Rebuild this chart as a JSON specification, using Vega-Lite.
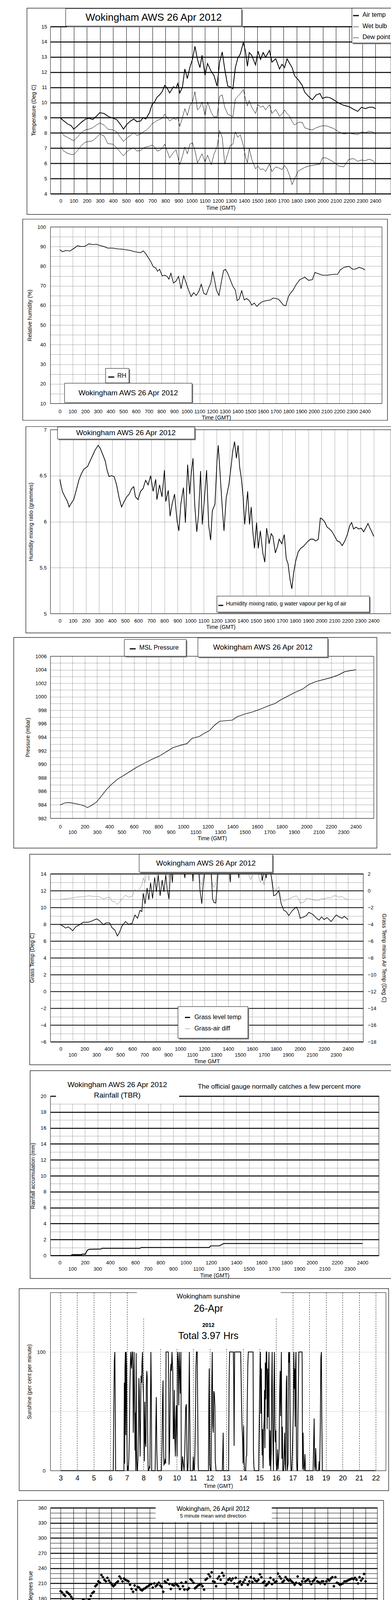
{
"$schema":"https://vega.github.io/schema/vega-lite/v6.json",
"background":"white",
"padding":{"left":32,"top":20,"right":0,"bottom":0},
"spacing":6,
"config":{
 "view":{"stroke":null},
 "font":"Liberation Sans",
 "mark":{"color":"#000"},
 "text":{"font":"Liberation Sans","color":"#000"},
 "axis":{"domain":false,"ticks":false,"labelFont":"Liberation Sans","labelFontSize":13,"labelColor":"#000","titleFont":"Liberation Sans","titleFontSize":14,"titleFontWeight":"normal","titleColor":"#000","gridColor":"#000","gridOpacity":1,"gridWidth":1,"labelOverlap":false,"labelFlush":false,"labelBound":false}
},
"datasets":{
"temp":[{"t":0,"air":8.97,"wet":8.11,"dew":7.12},{"t":23,"air":8.8,"wet":7.84,"dew":6.81},{"t":52,"air":8.6,"wet":7.71,"dew":6.67},{"t":81,"air":8.47,"wet":7.57,"dew":6.58},{"t":100,"air":8.25,"wet":7.48,"dew":6.58},{"t":129,"air":8.47,"wet":7.75,"dew":6.85},{"t":158,"air":8.7,"wet":8.02,"dew":7.17},{"t":187,"air":8.9,"wet":8.2,"dew":7.39},{"t":216,"air":8.97,"wet":8.25,"dew":7.44},{"t":244,"air":8.88,"wet":8.34,"dew":7.48},{"t":273,"air":9.1,"wet":8.52,"dew":7.71},{"t":298,"air":9.33,"wet":8.65,"dew":7.93},{"t":331,"air":9.28,"wet":8.52,"dew":7.8},{"t":360,"air":9.1,"wet":8.25,"dew":7.3},{"t":398,"air":8.97,"wet":8.2,"dew":7.26},{"t":427,"air":8.88,"wet":8.07,"dew":7.03},{"t":456,"air":8.56,"wet":7.71,"dew":6.72},{"t":479,"air":8.25,"wet":7.44,"dew":6.49},{"t":504,"air":8.56,"wet":7.66,"dew":6.76},{"t":533,"air":8.79,"wet":7.84,"dew":6.94},{"t":558,"air":8.92,"wet":8.02,"dew":7.03},{"t":581,"air":8.74,"wet":7.84,"dew":6.81},{"t":610,"air":8.79,"wet":7.93,"dew":6.85},{"t":629,"air":9.01,"wet":8.07,"dew":6.99},{"t":649,"air":8.92,"wet":8.16,"dew":7.08},{"t":677,"air":9.33,"wet":8.38,"dew":7.12},{"t":697,"air":9.87,"wet":8.61,"dew":7.21},{"t":716,"air":10.05,"wet":8.7,"dew":7.08},{"t":735,"air":10.36,"wet":8.83,"dew":6.81},{"t":754,"air":10.5,"wet":8.88,"dew":6.85},{"t":774,"air":10.72,"wet":8.97,"dew":6.99},{"t":793,"air":11.13,"wet":9.24,"dew":7.26},{"t":812,"air":10.95,"wet":9.01,"dew":6.81},{"t":831,"air":10.63,"wet":8.79,"dew":6.36},{"t":860,"air":11.04,"wet":8.97,"dew":6.72},{"t":880,"air":10.95,"wet":8.88,"dew":6.9},{"t":893,"air":11.26,"wet":9.06,"dew":6.45},{"t":908,"air":10.63,"wet":8.43,"dew":5.91},{"t":928,"air":11.0,"wet":8.97,"dew":6.45},{"t":947,"air":12.21,"wet":9.6,"dew":7.08},{"t":966,"air":11.58,"wet":9.15,"dew":6.63},{"t":985,"air":12.3,"wet":9.78,"dew":7.26},{"t":1005,"air":12.84,"wet":10.05,"dew":7.35},{"t":1024,"air":13.7,"wet":10.72,"dew":6.85},{"t":1043,"air":12.84,"wet":9.51,"dew":6.04},{"t":1062,"air":12.3,"wet":9.69,"dew":6.36},{"t":1078,"air":13.11,"wet":10.05,"dew":6.63},{"t":1101,"air":11.8,"wet":9.15,"dew":6.09},{"t":1120,"air":12.57,"wet":10.04,"dew":6.54},{"t":1149,"air":12.03,"wet":9.33,"dew":5.91},{"t":1168,"air":11.8,"wet":9.06,"dew":6.58},{"t":1193,"air":11.08,"wet":9.06,"dew":7.08},{"t":1212,"air":12.66,"wet":10.41,"dew":8.16},{"t":1232,"air":13.33,"wet":10.5,"dew":7.71},{"t":1251,"air":12.21,"wet":9.69,"dew":5.95},{"t":1274,"air":11.08,"wet":9.24,"dew":6.63},{"t":1293,"air":11.04,"wet":9.15,"dew":7.17},{"t":1313,"air":10.9,"wet":9.06,"dew":7.26},{"t":1332,"air":12.3,"wet":10.23,"dew":8.07},{"t":1351,"air":12.93,"wet":10.41,"dew":7.71},{"t":1370,"air":13.2,"wet":10.59,"dew":7.89},{"t":1393,"air":13.96,"wet":10.86,"dew":7.17},{"t":1409,"air":13.38,"wet":10.23,"dew":6.45},{"t":1424,"air":12.39,"wet":9.78,"dew":6.04},{"t":1438,"air":13.29,"wet":10.14,"dew":6.99},{"t":1457,"air":13.11,"wet":9.69,"dew":6.27},{"t":1486,"air":12.48,"wet":9.28,"dew":5.64},{"t":1505,"air":13.38,"wet":9.87,"dew":5.82},{"t":1524,"air":12.84,"wet":9.69,"dew":5.59},{"t":1544,"air":13.29,"wet":9.78,"dew":5.64},{"t":1563,"air":12.98,"wet":9.51,"dew":5.46},{"t":1592,"air":13.43,"wet":9.87,"dew":5.95},{"t":1611,"air":12.66,"wet":9.28,"dew":5.46},{"t":1640,"air":12.88,"wet":9.55,"dew":5.77},{"t":1669,"air":12.21,"wet":9.1,"dew":5.68},{"t":1688,"air":12.52,"wet":9.24,"dew":5.59},{"t":1707,"air":12.3,"wet":9.51,"dew":5.86},{"t":1726,"air":12.88,"wet":9.28,"dew":5.64},{"t":1746,"air":12.57,"wet":9.1,"dew":5.19},{"t":1765,"air":12.3,"wet":8.74,"dew":4.6},{"t":1784,"air":11.76,"wet":8.52,"dew":5.01},{"t":1813,"air":11.49,"wet":8.7,"dew":5.5},{"t":1842,"air":11.13,"wet":8.7,"dew":5.64},{"t":1861,"air":10.68,"wet":8.34,"dew":5.73},{"t":1890,"air":10.41,"wet":8.25,"dew":5.82},{"t":1919,"air":10.18,"wet":8.2,"dew":5.86},{"t":1948,"air":10.5,"wet":8.34,"dew":5.91},{"t":1977,"air":10.59,"wet":8.43,"dew":5.95},{"t":1996,"air":10.27,"wet":8.47,"dew":6.36},{"t":2025,"air":10.36,"wet":8.47,"dew":6.36},{"t":2054,"air":10.32,"wet":8.38,"dew":6.22},{"t":2082,"air":10.18,"wet":8.29,"dew":6.09},{"t":2121,"air":9.96,"wet":8.07,"dew":5.82},{"t":2159,"air":9.82,"wet":7.93,"dew":5.77},{"t":2198,"air":9.73,"wet":7.98,"dew":6.27},{"t":2236,"air":9.55,"wet":7.93,"dew":6.31},{"t":2265,"air":9.42,"wet":7.89,"dew":6.13},{"t":2294,"air":9.69,"wet":8.07,"dew":6.22},{"t":2323,"air":9.6,"wet":8.02,"dew":6.18},{"t":2352,"air":9.69,"wet":8.11,"dew":6.27},{"t":2381,"air":9.69,"wet":8.07,"dew":6.18},{"t":2400,"air":9.6,"wet":7.93,"dew":6.0}],
"rh":[{"t":0,"v":88.4},{"t":20,"v":87.4},{"t":50,"v":88.0},{"t":79,"v":87.7},{"t":109,"v":89.0},{"t":139,"v":90.4},{"t":169,"v":90.0},{"t":199,"v":90.2},{"t":229,"v":91.4},{"t":258,"v":91.0},{"t":288,"v":91.2},{"t":318,"v":90.5},{"t":348,"v":90.0},{"t":378,"v":89.2},{"t":417,"v":89.2},{"t":457,"v":88.8},{"t":487,"v":88.7},{"t":517,"v":88.4},{"t":556,"v":88.0},{"t":586,"v":87.4},{"t":616,"v":87.1},{"t":636,"v":86.9},{"t":656,"v":87.8},{"t":676,"v":86.4},{"t":695,"v":84.4},{"t":715,"v":82.4},{"t":735,"v":79.7},{"t":755,"v":79.1},{"t":769,"v":77.4},{"t":785,"v":78.4},{"t":805,"v":75.1},{"t":825,"v":75.4},{"t":844,"v":74.8},{"t":858,"v":73.4},{"t":874,"v":76.4},{"t":894,"v":71.4},{"t":914,"v":72.4},{"t":934,"v":74.8},{"t":954,"v":68.5},{"t":974,"v":75.1},{"t":994,"v":71.4},{"t":1013,"v":67.8},{"t":1033,"v":64.5},{"t":1053,"v":66.5},{"t":1073,"v":65.1},{"t":1093,"v":67.1},{"t":1113,"v":70.8},{"t":1133,"v":66.1},{"t":1152,"v":65.5},{"t":1172,"v":69.1},{"t":1188,"v":71.4},{"t":1202,"v":77.4},{"t":1216,"v":73.4},{"t":1232,"v":67.8},{"t":1252,"v":65.1},{"t":1272,"v":72.4},{"t":1288,"v":77.8},{"t":1303,"v":78.4},{"t":1321,"v":76.4},{"t":1341,"v":73.1},{"t":1361,"v":69.8},{"t":1381,"v":67.8},{"t":1395,"v":62.5},{"t":1411,"v":63.2},{"t":1431,"v":67.5},{"t":1451,"v":62.8},{"t":1470,"v":63.5},{"t":1490,"v":62.5},{"t":1510,"v":60.2},{"t":1530,"v":61.2},{"t":1550,"v":59.5},{"t":1570,"v":60.8},{"t":1590,"v":61.8},{"t":1609,"v":62.2},{"t":1629,"v":62.5},{"t":1659,"v":62.8},{"t":1679,"v":63.8},{"t":1699,"v":63.5},{"t":1719,"v":63.2},{"t":1739,"v":61.8},{"t":1758,"v":60.2},{"t":1778,"v":59.8},{"t":1798,"v":64.5},{"t":1818,"v":66.5},{"t":1838,"v":68.1},{"t":1858,"v":70.5},{"t":1888,"v":73.1},{"t":1927,"v":74.4},{"t":1957,"v":72.8},{"t":1987,"v":73.1},{"t":2007,"v":76.8},{"t":2037,"v":76.1},{"t":2066,"v":75.4},{"t":2106,"v":75.4},{"t":2146,"v":75.8},{"t":2186,"v":75.9},{"t":2206,"v":78.1},{"t":2235,"v":79.4},{"t":2275,"v":79.9},{"t":2305,"v":78.4},{"t":2325,"v":78.5},{"t":2355,"v":79.4},{"t":2384,"v":78.8},{"t":2400,"v":78.1}],
"mix":[{"t":0,"v":6.46},{"t":10,"v":6.39},{"t":19,"v":6.33},{"t":39,"v":6.27},{"t":58,"v":6.22},{"t":71,"v":6.16},{"t":87,"v":6.2},{"t":106,"v":6.24},{"t":125,"v":6.34},{"t":145,"v":6.45},{"t":164,"v":6.52},{"t":183,"v":6.57},{"t":212,"v":6.6},{"t":231,"v":6.66},{"t":251,"v":6.72},{"t":270,"v":6.78},{"t":293,"v":6.83},{"t":308,"v":6.8},{"t":328,"v":6.73},{"t":347,"v":6.66},{"t":361,"v":6.56},{"t":376,"v":6.49},{"t":395,"v":6.5},{"t":415,"v":6.49},{"t":434,"v":6.4},{"t":453,"v":6.26},{"t":472,"v":6.16},{"t":492,"v":6.22},{"t":511,"v":6.27},{"t":530,"v":6.3},{"t":549,"v":6.36},{"t":565,"v":6.38},{"t":578,"v":6.27},{"t":598,"v":6.24},{"t":617,"v":6.33},{"t":636,"v":6.36},{"t":656,"v":6.45},{"t":675,"v":6.4},{"t":694,"v":6.5},{"t":713,"v":6.33},{"t":733,"v":6.46},{"t":742,"v":6.24},{"t":762,"v":6.4},{"t":781,"v":6.27},{"t":800,"v":6.56},{"t":810,"v":6.22},{"t":829,"v":6.34},{"t":843,"v":6.06},{"t":858,"v":6.19},{"t":877,"v":6.3},{"t":897,"v":6.0},{"t":910,"v":5.9},{"t":925,"v":6.19},{"t":945,"v":6.37},{"t":960,"v":5.99},{"t":977,"v":6.62},{"t":993,"v":6.3},{"t":1003,"v":6.5},{"t":1018,"v":6.69},{"t":1031,"v":6.19},{"t":1047,"v":5.89},{"t":1060,"v":6.07},{"t":1076,"v":6.55},{"t":1089,"v":5.97},{"t":1105,"v":6.24},{"t":1122,"v":6.56},{"t":1138,"v":5.96},{"t":1153,"v":5.8},{"t":1166,"v":6.12},{"t":1186,"v":6.19},{"t":1201,"v":6.65},{"t":1211,"v":6.83},{"t":1224,"v":6.55},{"t":1240,"v":6.19},{"t":1255,"v":5.9},{"t":1272,"v":6.26},{"t":1292,"v":6.4},{"t":1311,"v":6.62},{"t":1321,"v":6.76},{"t":1336,"v":6.87},{"t":1350,"v":6.69},{"t":1363,"v":6.83},{"t":1375,"v":6.59},{"t":1388,"v":6.47},{"t":1402,"v":6.26},{"t":1413,"v":5.97},{"t":1427,"v":6.19},{"t":1436,"v":6.33},{"t":1450,"v":5.97},{"t":1463,"v":6.16},{"t":1475,"v":5.9},{"t":1488,"v":5.71},{"t":1504,"v":5.99},{"t":1517,"v":5.71},{"t":1533,"v":5.9},{"t":1552,"v":5.66},{"t":1567,"v":5.56},{"t":1581,"v":5.93},{"t":1600,"v":5.76},{"t":1616,"v":5.87},{"t":1629,"v":5.84},{"t":1648,"v":5.66},{"t":1664,"v":5.73},{"t":1677,"v":5.81},{"t":1697,"v":5.76},{"t":1716,"v":5.86},{"t":1731,"v":5.6},{"t":1745,"v":5.54},{"t":1760,"v":5.37},{"t":1774,"v":5.27},{"t":1787,"v":5.44},{"t":1803,"v":5.57},{"t":1822,"v":5.67},{"t":1841,"v":5.71},{"t":1861,"v":5.73},{"t":1880,"v":5.76},{"t":1899,"v":5.79},{"t":1918,"v":5.81},{"t":1938,"v":5.81},{"t":1957,"v":5.79},{"t":1976,"v":5.81},{"t":1992,"v":6.04},{"t":2005,"v":6.03},{"t":2024,"v":6.0},{"t":2044,"v":5.94},{"t":2063,"v":5.92},{"t":2082,"v":5.89},{"t":2102,"v":5.84},{"t":2121,"v":5.79},{"t":2140,"v":5.78},{"t":2159,"v":5.74},{"t":2179,"v":5.79},{"t":2198,"v":5.86},{"t":2217,"v":5.96},{"t":2231,"v":5.99},{"t":2246,"v":5.92},{"t":2265,"v":5.94},{"t":2285,"v":5.92},{"t":2304,"v":5.93},{"t":2323,"v":5.89},{"t":2342,"v":5.94},{"t":2356,"v":5.98},{"t":2371,"v":5.93},{"t":2385,"v":5.89},{"t":2400,"v":5.84}],
"pres":[{"t":0,"v":983.99},{"t":37,"v":984.28},{"t":68,"v":984.34},{"t":108,"v":984.24},{"t":149,"v":984.09},{"t":190,"v":983.89},{"t":221,"v":983.6},{"t":252,"v":983.89},{"t":293,"v":984.38},{"t":333,"v":985.26},{"t":374,"v":986.23},{"t":415,"v":987.0},{"t":466,"v":987.8},{"t":518,"v":988.38},{"t":569,"v":988.96},{"t":620,"v":989.55},{"t":681,"v":990.14},{"t":743,"v":990.72},{"t":804,"v":991.21},{"t":865,"v":991.9},{"t":917,"v":992.48},{"t":968,"v":992.77},{"t":1029,"v":993.06},{"t":1070,"v":993.84},{"t":1131,"v":994.14},{"t":1172,"v":994.62},{"t":1213,"v":995.01},{"t":1254,"v":995.8},{"t":1295,"v":996.38},{"t":1357,"v":996.48},{"t":1397,"v":996.54},{"t":1438,"v":997.06},{"t":1500,"v":997.45},{"t":1561,"v":997.75},{"t":1622,"v":998.14},{"t":1684,"v":998.62},{"t":1745,"v":999.01},{"t":1786,"v":999.5},{"t":1848,"v":1000.09},{"t":1909,"v":1000.67},{"t":1970,"v":1001.16},{"t":2021,"v":1001.84},{"t":2073,"v":1002.23},{"t":2134,"v":1002.53},{"t":2195,"v":1002.82},{"t":2257,"v":1003.21},{"t":2308,"v":1003.7},{"t":2359,"v":1003.89},{"t":2400,"v":1003.99}],
"grass":[{"t":0,"g":7.93,"d":-1.06},{"t":21,"g":7.77,"d":-1.01},{"t":42,"g":7.54,"d":-1.0},{"t":63,"g":7.69,"d":-0.93},{"t":84,"g":7.46,"d":-0.9},{"t":101,"g":7.22,"d":-0.85},{"t":126,"g":7.69,"d":-0.8},{"t":158,"g":7.93,"d":-0.73},{"t":189,"g":8.24,"d":-0.74},{"t":232,"g":8.24,"d":-0.62},{"t":263,"g":8.4,"d":-0.67},{"t":301,"g":8.64,"d":-0.7},{"t":326,"g":8.4,"d":-0.73},{"t":358,"g":7.93,"d":-1.01},{"t":379,"g":8.16,"d":-0.85},{"t":410,"g":8.16,"d":-0.78},{"t":427,"g":7.62,"d":-1.25},{"t":453,"g":7.3,"d":-1.33},{"t":474,"g":6.6,"d":-1.64},{"t":490,"g":6.99,"d":-1.4},{"t":512,"g":7.77,"d":-1.0},{"t":541,"g":8.32,"d":-0.54},{"t":568,"g":8.0,"d":-0.78},{"t":596,"g":8.09,"d":-0.7},{"t":621,"g":9.1,"d":0.16},{"t":642,"g":8.71,"d":-0.15},{"t":663,"g":9.66,"d":0.32},{"t":678,"g":9.5,"d":0.64},{"t":690,"g":11.69,"d":1.5},{"t":705,"g":10.44,"d":1.0},{"t":722,"g":12.32,"d":2.5},{"t":737,"g":10.91,"d":1.2},{"t":751,"g":12.95,"d":3},{"t":768,"g":11.06,"d":2.2},{"t":785,"g":13.58,"d":4},{"t":800,"g":11.85,"d":3},{"t":815,"g":13.89,"d":4.5},{"t":831,"g":11.38,"d":2.0},{"t":848,"g":13.26,"d":4},{"t":863,"g":11.85,"d":3},{"t":878,"g":13.89,"d":4.5},{"t":890,"g":12.16,"d":3.5},{"t":905,"g":10.99,"d":1.6},{"t":920,"g":15,"d":5},{"t":933,"g":12.95,"d":4},{"t":947,"g":16,"d":5},{"t":968,"g":17,"d":6},{"t":989,"g":18,"d":6},{"t":1010,"g":16,"d":5},{"t":1025,"g":14.5,"d":4},{"t":1038,"g":13.5,"d":2.0},{"t":1053,"g":17,"d":5.5},{"t":1084,"g":18,"d":6},{"t":1105,"g":13.11,"d":1.6},{"t":1116,"g":16,"d":5},{"t":1137,"g":17,"d":6},{"t":1151,"g":15,"d":4},{"t":1164,"g":12.0,"d":1.0},{"t":1179,"g":10.44,"d":0.7},{"t":1189,"g":12.5,"d":1.5},{"t":1206,"g":14.5,"d":3},{"t":1221,"g":17,"d":6},{"t":1242,"g":18,"d":6},{"t":1257,"g":14.5,"d":1.4},{"t":1269,"g":11,"d":0.6},{"t":1280,"g":10.6,"d":0.4},{"t":1295,"g":10.52,"d":0.8},{"t":1305,"g":12.0,"d":1.2},{"t":1316,"g":14.5,"d":3},{"t":1347,"g":18,"d":6},{"t":1379,"g":18,"d":6},{"t":1417,"g":13.0,"d":1.0},{"t":1431,"g":17,"d":5},{"t":1463,"g":18,"d":6},{"t":1488,"g":13.5,"d":1.5},{"t":1505,"g":17,"d":5},{"t":1547,"g":18,"d":6},{"t":1572,"g":15,"d":1.8},{"t":1589,"g":16,"d":1.3},{"t":1606,"g":15,"d":2.2},{"t":1631,"g":17,"d":4},{"t":1657,"g":13.9,"d":1.4},{"t":1669,"g":15,"d":1.0},{"t":1684,"g":13.2,"d":1.6},{"t":1699,"g":14.5,"d":0.7},{"t":1716,"g":13.5,"d":2.0},{"t":1737,"g":15,"d":3},{"t":1753,"g":14.2,"d":2.5},{"t":1768,"g":12.95,"d":0.4},{"t":1779,"g":11.38,"d":0.32},{"t":1800,"g":11.54,"d":0.0},{"t":1821,"g":12.0,"d":0.48},{"t":1842,"g":10.44,"d":-0.93},{"t":1863,"g":9.66,"d":-1.25},{"t":1884,"g":9.5,"d":-1.1},{"t":1905,"g":9.03,"d":-1.01},{"t":1937,"g":9.66,"d":-0.78},{"t":1968,"g":10.03,"d":-0.62},{"t":1985,"g":9.6,"d":-0.93},{"t":2000,"g":8.71,"d":-1.48},{"t":2031,"g":8.87,"d":-1.4},{"t":2052,"g":9.03,"d":-0.93},{"t":2073,"g":9.42,"d":-0.93},{"t":2105,"g":9.18,"d":-1.09},{"t":2137,"g":8.71,"d":-1.17},{"t":2158,"g":8.48,"d":-1.17},{"t":2179,"g":8.87,"d":-0.93},{"t":2200,"g":8.56,"d":-1.01},{"t":2225,"g":8.79,"d":-0.85},{"t":2259,"g":8.32,"d":-0.85},{"t":2280,"g":8.71,"d":-0.62},{"t":2301,"g":9.1,"d":-0.62},{"t":2326,"g":8.87,"d":-0.78},{"t":2351,"g":8.71,"d":-0.7},{"t":2368,"g":8.95,"d":-0.9},{"t":2400,"g":8.56,"d":-1.09}],
"rain":[{"t":0,"v":0},{"t":94,"v":0},{"t":96,"v":0.1},{"t":174,"v":0.1},{"t":176,"v":0.17},{"t":204,"v":0.17},{"t":212,"v":0.5},{"t":222,"v":0.7},{"t":234,"v":0.78},{"t":325,"v":0.8},{"t":335,"v":0.9},{"t":635,"v":0.9},{"t":645,"v":1.0},{"t":1185,"v":1.0},{"t":1195,"v":1.2},{"t":1265,"v":1.2},{"t":1300,"v":1.5},{"t":2400,"v":1.5}],
"sun":[{"h":3,"s":0},{"h":6.175,"s":0},{"h":6.206,"s":50},{"h":6.238,"s":92},{"h":6.27,"s":100},{"h":6.294,"s":57},{"h":6.317,"s":0},{"h":6.817,"s":0},{"h":6.841,"s":74},{"h":6.865,"s":6},{"h":6.881,"s":87},{"h":6.905,"s":100},{"h":6.929,"s":30},{"h":6.952,"s":100},{"h":6.976,"s":88},{"h":7.0,"s":25},{"h":7.024,"s":0},{"h":7.048,"s":4},{"h":7.079,"s":0},{"h":7.111,"s":9},{"h":7.143,"s":28},{"h":7.175,"s":68},{"h":7.198,"s":83},{"h":7.222,"s":100},{"h":7.254,"s":90},{"h":7.278,"s":86},{"h":7.31,"s":100},{"h":7.333,"s":100},{"h":7.357,"s":87},{"h":7.381,"s":32},{"h":7.405,"s":60},{"h":7.429,"s":100},{"h":7.46,"s":60},{"h":7.484,"s":17},{"h":7.508,"s":49},{"h":7.532,"s":0},{"h":7.556,"s":99},{"h":7.579,"s":15},{"h":7.611,"s":0},{"h":7.635,"s":0},{"h":7.667,"s":12},{"h":7.698,"s":45},{"h":7.722,"s":78},{"h":7.746,"s":67},{"h":7.77,"s":32},{"h":7.794,"s":12},{"h":7.825,"s":54},{"h":7.849,"s":80},{"h":7.881,"s":74},{"h":7.905,"s":90},{"h":7.937,"s":100},{"h":7.968,"s":72},{"h":8.0,"s":62},{"h":8.024,"s":33},{"h":8.048,"s":8},{"h":8.079,"s":58},{"h":8.103,"s":25},{"h":8.143,"s":20},{"h":8.167,"s":72},{"h":8.198,"s":84},{"h":8.222,"s":79},{"h":8.246,"s":33},{"h":8.278,"s":0},{"h":8.317,"s":0},{"h":8.349,"s":3},{"h":8.381,"s":2},{"h":8.413,"s":52},{"h":8.444,"s":100},{"h":8.468,"s":72},{"h":8.492,"s":0},{"h":8.698,"s":0},{"h":8.738,"s":35},{"h":8.77,"s":62},{"h":8.802,"s":16},{"h":8.833,"s":0},{"h":9.079,"s":0},{"h":9.111,"s":20},{"h":9.143,"s":57},{"h":9.175,"s":76},{"h":9.198,"s":25},{"h":9.23,"s":5},{"h":9.27,"s":6},{"h":9.302,"s":10},{"h":9.333,"s":6},{"h":9.357,"s":100},{"h":9.492,"s":100},{"h":9.516,"s":77},{"h":9.54,"s":5},{"h":9.571,"s":17},{"h":9.603,"s":57},{"h":9.627,"s":84},{"h":9.651,"s":90},{"h":9.683,"s":84},{"h":9.714,"s":100},{"h":9.762,"s":84},{"h":9.794,"s":27},{"h":9.825,"s":27},{"h":9.857,"s":68},{"h":9.889,"s":27},{"h":9.921,"s":12},{"h":9.944,"s":42},{"h":9.976,"s":55},{"h":10.0,"s":33},{"h":10.024,"s":12},{"h":10.04,"s":91},{"h":10.063,"s":100},{"h":10.095,"s":91},{"h":10.127,"s":55},{"h":10.159,"s":100},{"h":10.19,"s":83},{"h":10.222,"s":65},{"h":10.254,"s":100},{"h":10.278,"s":0},{"h":10.317,"s":0},{"h":10.349,"s":12},{"h":10.444,"s":0},{"h":10.484,"s":15},{"h":10.508,"s":30},{"h":10.54,"s":53},{"h":10.579,"s":56},{"h":10.603,"s":26},{"h":10.635,"s":0},{"h":10.667,"s":0},{"h":10.698,"s":9},{"h":10.73,"s":52},{"h":10.762,"s":100},{"h":10.786,"s":51},{"h":10.817,"s":0},{"h":10.968,"s":0},{"h":11.0,"s":12},{"h":11.032,"s":2},{"h":11.063,"s":0},{"h":11.095,"s":15},{"h":11.127,"s":40},{"h":11.159,"s":86},{"h":11.19,"s":100},{"h":11.238,"s":100},{"h":11.262,"s":57},{"h":11.294,"s":4},{"h":11.317,"s":0},{"h":11.913,"s":0},{"h":11.937,"s":59},{"h":11.96,"s":86},{"h":11.992,"s":5},{"h":12.032,"s":0},{"h":12.071,"s":0},{"h":12.111,"s":70},{"h":12.143,"s":100},{"h":12.175,"s":38},{"h":12.206,"s":32},{"h":12.238,"s":67},{"h":12.27,"s":65},{"h":12.302,"s":54},{"h":12.325,"s":8},{"h":12.373,"s":0},{"h":12.746,"s":0},{"h":12.778,"s":16},{"h":12.802,"s":32},{"h":12.825,"s":0},{"h":13.127,"s":0},{"h":13.159,"s":76},{"h":13.19,"s":100},{"h":13.413,"s":100},{"h":13.437,"s":75},{"h":13.46,"s":21},{"h":13.492,"s":100},{"h":13.857,"s":100},{"h":13.889,"s":74},{"h":13.913,"s":52},{"h":13.937,"s":38},{"h":13.976,"s":25},{"h":14.0,"s":6},{"h":14.032,"s":38},{"h":14.063,"s":9},{"h":14.095,"s":0},{"h":14.159,"s":0},{"h":14.19,"s":12},{"h":14.222,"s":13},{"h":14.254,"s":57},{"h":14.286,"s":89},{"h":14.317,"s":100},{"h":14.603,"s":100},{"h":14.627,"s":16},{"h":14.651,"s":4},{"h":14.683,"s":0},{"h":14.937,"s":0},{"h":14.968,"s":33},{"h":15.0,"s":66},{"h":15.024,"s":89},{"h":15.048,"s":100},{"h":15.071,"s":48},{"h":15.103,"s":86},{"h":15.127,"s":39},{"h":15.151,"s":13},{"h":15.175,"s":35},{"h":15.206,"s":2},{"h":15.238,"s":34},{"h":15.27,"s":42},{"h":15.294,"s":68},{"h":15.317,"s":19},{"h":15.341,"s":91},{"h":15.365,"s":60},{"h":15.397,"s":100},{"h":15.429,"s":100},{"h":15.452,"s":35},{"h":15.476,"s":86},{"h":15.508,"s":45},{"h":15.54,"s":86},{"h":15.563,"s":100},{"h":15.587,"s":11},{"h":15.611,"s":4},{"h":15.643,"s":34},{"h":15.667,"s":0},{"h":15.698,"s":15},{"h":15.722,"s":68},{"h":15.754,"s":100},{"h":15.778,"s":46},{"h":15.802,"s":24},{"h":15.833,"s":0},{"h":15.857,"s":65},{"h":15.889,"s":100},{"h":15.921,"s":38},{"h":15.944,"s":24},{"h":15.976,"s":34},{"h":16.0,"s":6},{"h":16.04,"s":0},{"h":16.079,"s":18},{"h":16.111,"s":1},{"h":16.151,"s":11},{"h":16.175,"s":19},{"h":16.206,"s":65},{"h":16.238,"s":84},{"h":16.262,"s":46},{"h":16.286,"s":75},{"h":16.31,"s":100},{"h":16.341,"s":10},{"h":16.373,"s":37},{"h":16.397,"s":0},{"h":16.444,"s":0},{"h":16.476,"s":15},{"h":16.508,"s":32},{"h":16.532,"s":6},{"h":16.563,"s":0},{"h":16.587,"s":52},{"h":16.611,"s":75},{"h":16.635,"s":80},{"h":16.659,"s":0},{"h":16.714,"s":6},{"h":16.746,"s":100},{"h":16.778,"s":91},{"h":16.81,"s":100},{"h":16.833,"s":53},{"h":16.857,"s":12},{"h":16.897,"s":0},{"h":16.937,"s":0},{"h":16.968,"s":14},{"h":17.008,"s":36},{"h":17.04,"s":54},{"h":17.063,"s":100},{"h":17.095,"s":69},{"h":17.119,"s":86},{"h":17.143,"s":37},{"h":17.167,"s":90},{"h":17.19,"s":100},{"h":17.222,"s":11},{"h":17.254,"s":0},{"h":17.286,"s":0},{"h":17.302,"s":36},{"h":17.333,"s":70},{"h":17.365,"s":100},{"h":17.556,"s":100},{"h":17.563,"s":92},{"h":17.587,"s":1},{"h":17.619,"s":32},{"h":17.651,"s":3},{"h":17.683,"s":0},{"h":17.73,"s":14},{"h":17.762,"s":0},{"h":18.222,"s":0},{"h":18.254,"s":22},{"h":18.286,"s":44},{"h":18.317,"s":4},{"h":18.349,"s":0},{"h":18.381,"s":19},{"h":18.413,"s":4},{"h":18.444,"s":0},{"h":18.556,"s":0},{"h":18.587,"s":8},{"h":18.619,"s":0},{"h":18.659,"s":40},{"h":18.69,"s":95},{"h":18.722,"s":100},{"h":18.746,"s":47},{"h":18.778,"s":0},{"h":22,"s":0}],
"dir":[{"h":0,"d":194.6},{"h":0.119,"d":191.9},{"h":0.238,"d":187.7},{"h":0.356,"d":185},{"h":0.475,"d":193.2},{"h":0.594,"d":190.5},{"h":0.713,"d":187.7},{"h":0.832,"d":183.5},{"h":0.95,"d":179.4},{"h":1.069,"d":167.5},{"h":1.188,"d":172.5},{"h":1.307,"d":171.1},{"h":1.426,"d":168.3},{"h":1.545,"d":169.7},{"h":1.663,"d":167.5},{"h":1.782,"d":177.5},{"h":1.901,"d":175.2},{"h":2.02,"d":172.5},{"h":2.139,"d":175.2},{"h":2.257,"d":178},{"h":2.376,"d":185},{"h":2.495,"d":190.5},{"h":2.614,"d":193.2},{"h":2.733,"d":204.3},{"h":2.851,"d":207.1},{"h":2.97,"d":214},{"h":3.089,"d":211.2},{"h":3.208,"d":226.5},{"h":3.327,"d":222.3},{"h":3.445,"d":216.8},{"h":3.564,"d":214},{"h":3.683,"d":220.9},{"h":3.802,"d":215.4},{"h":3.921,"d":211.2},{"h":4.04,"d":207.1},{"h":4.158,"d":204.3},{"h":4.277,"d":207.1},{"h":4.396,"d":211.2},{"h":4.515,"d":214},{"h":4.634,"d":223.7},{"h":4.752,"d":219.6},{"h":4.871,"d":214},{"h":4.99,"d":219.6},{"h":5.109,"d":216.8},{"h":5.228,"d":215.4},{"h":5.346,"d":214},{"h":5.465,"d":207.1},{"h":5.584,"d":198.8},{"h":5.703,"d":193.2},{"h":5.822,"d":205.7},{"h":5.941,"d":197.4},{"h":6.059,"d":202.9},{"h":6.178,"d":201.5},{"h":6.297,"d":197.4},{"h":6.416,"d":196},{"h":6.535,"d":198.8},{"h":6.653,"d":200.2},{"h":6.772,"d":202.9},{"h":6.891,"d":204.3},{"h":7.01,"d":207.1},{"h":7.129,"d":208.5},{"h":7.247,"d":201.5},{"h":7.366,"d":209.9},{"h":7.485,"d":204.3},{"h":7.604,"d":207.1},{"h":7.723,"d":211.2},{"h":7.842,"d":205.7},{"h":7.96,"d":202.9},{"h":8.079,"d":193.2},{"h":8.198,"d":214},{"h":8.317,"d":211.2},{"h":8.436,"d":216.8},{"h":8.554,"d":208.5},{"h":8.673,"d":198.8},{"h":8.792,"d":207.1},{"h":8.911,"d":205.7},{"h":9.03,"d":209.9},{"h":9.149,"d":207.1},{"h":9.267,"d":204.3},{"h":9.386,"d":198.8},{"h":9.505,"d":211.2},{"h":9.624,"d":204.3},{"h":9.743,"d":197.4},{"h":9.861,"d":212.6},{"h":9.98,"d":197.4},{"h":10.099,"d":200.2},{"h":10.218,"d":218.2},{"h":10.337,"d":215.4},{"h":10.455,"d":211.2},{"h":10.574,"d":200.2},{"h":10.693,"d":202.9},{"h":10.812,"d":205.7},{"h":10.931,"d":207.1},{"h":11.05,"d":208.5},{"h":11.168,"d":204.3},{"h":11.287,"d":197.4},{"h":11.406,"d":216.8},{"h":11.525,"d":219.6},{"h":11.644,"d":227.9},{"h":11.762,"d":223.7},{"h":11.881,"d":232},{"h":12.0,"d":214},{"h":12.119,"d":212.6},{"h":12.238,"d":204.3},{"h":12.356,"d":219.6},{"h":12.475,"d":223.7},{"h":12.594,"d":216.8},{"h":12.713,"d":230.6},{"h":12.832,"d":225.1},{"h":12.95,"d":208.5},{"h":13.069,"d":211.2},{"h":13.188,"d":216.8},{"h":13.307,"d":219.6},{"h":13.426,"d":215.4},{"h":13.545,"d":219.6},{"h":13.663,"d":209.9},{"h":13.782,"d":220.9},{"h":13.901,"d":202.9},{"h":14.02,"d":211.2},{"h":14.139,"d":214},{"h":14.257,"d":207.1},{"h":14.376,"d":212.6},{"h":14.495,"d":216.8},{"h":14.614,"d":222.3},{"h":14.733,"d":207.1},{"h":14.851,"d":214},{"h":14.97,"d":222.3},{"h":15.089,"d":212.6},{"h":15.208,"d":219.6},{"h":15.327,"d":215.4},{"h":15.446,"d":214},{"h":15.564,"d":216.8},{"h":15.683,"d":227.9},{"h":15.802,"d":222.3},{"h":15.921,"d":211.2},{"h":16.04,"d":214},{"h":16.158,"d":205.7},{"h":16.277,"d":208.5},{"h":16.396,"d":212.6},{"h":16.515,"d":220.9},{"h":16.634,"d":208.5},{"h":16.752,"d":216.8},{"h":16.871,"d":212.6},{"h":16.99,"d":214},{"h":17.109,"d":229.3},{"h":17.228,"d":223.7},{"h":17.346,"d":219.6},{"h":17.465,"d":212.6},{"h":17.584,"d":215.4},{"h":17.703,"d":222.3},{"h":17.822,"d":218.2},{"h":17.941,"d":215.4},{"h":18.059,"d":216.8},{"h":18.178,"d":214},{"h":18.297,"d":211.2},{"h":18.416,"d":207.1},{"h":18.535,"d":211.2},{"h":18.653,"d":223.7},{"h":18.772,"d":209.9},{"h":18.891,"d":207.1},{"h":19.01,"d":214},{"h":19.129,"d":219.6},{"h":19.247,"d":214},{"h":19.366,"d":215.4},{"h":19.485,"d":218.2},{"h":19.604,"d":214},{"h":19.723,"d":208.5},{"h":19.842,"d":214},{"h":19.96,"d":216.8},{"h":20.079,"d":220.9},{"h":20.198,"d":214},{"h":20.317,"d":212.6},{"h":20.436,"d":209.9},{"h":20.554,"d":214},{"h":20.673,"d":214},{"h":20.792,"d":208.5},{"h":20.911,"d":214},{"h":21.03,"d":218.2},{"h":21.149,"d":215.4},{"h":21.267,"d":219.6},{"h":21.386,"d":222.3},{"h":21.505,"d":204.3},{"h":21.624,"d":222.3},{"h":21.743,"d":211.2},{"h":21.861,"d":209.9},{"h":21.98,"d":207.1},{"h":22.099,"d":208.5},{"h":22.218,"d":209.9},{"h":22.337,"d":214},{"h":22.455,"d":214},{"h":22.574,"d":215.4},{"h":22.693,"d":216.8},{"h":22.812,"d":218.2},{"h":22.931,"d":219.6},{"h":23.05,"d":218.2},{"h":23.168,"d":220.9},{"h":23.287,"d":216.8},{"h":23.406,"d":209.9},{"h":23.525,"d":222.3},{"h":23.644,"d":215.4},{"h":23.762,"d":219.6},{"h":23.881,"d":228.6},{"h":24.0,"d":214}],
"wmean":[{"h":0,"v":9.5},{"h":0.135,"v":8.4},{"h":0.328,"v":7.8},{"h":0.521,"v":7.5},{"h":0.714,"v":7.2},{"h":0.907,"v":6.6},{"h":1.023,"v":5.4},{"h":1.196,"v":6.3},{"h":1.389,"v":5.7},{"h":1.582,"v":6.6},{"h":1.775,"v":6.9},{"h":1.968,"v":7.5},{"h":2.103,"v":9.2},{"h":2.257,"v":6.6},{"h":2.412,"v":9.2},{"h":2.643,"v":10.7},{"h":2.933,"v":9.8},{"h":3.222,"v":10.4},{"h":3.511,"v":9.5},{"h":3.704,"v":10.7},{"h":3.955,"v":7.5},{"h":4.148,"v":8.6},{"h":4.38,"v":8.4},{"h":4.573,"v":10.4},{"h":4.804,"v":8.1},{"h":5.055,"v":8.1},{"h":5.248,"v":7.2},{"h":5.383,"v":6.6},{"h":5.634,"v":7.2},{"h":5.827,"v":8.4},{"h":5.962,"v":7.2},{"h":6.213,"v":10.1},{"h":6.406,"v":8.1},{"h":6.695,"v":9.5},{"h":6.984,"v":10.7},{"h":7.177,"v":12.2},{"h":7.467,"v":12.5},{"h":7.66,"v":11.3},{"h":7.949,"v":9.8},{"h":8.142,"v":14.2},{"h":8.335,"v":11.3},{"h":8.528,"v":12.8},{"h":8.817,"v":10.4},{"h":9.01,"v":14.8},{"h":9.3,"v":13.9},{"h":9.589,"v":12.5},{"h":9.821,"v":10.4},{"h":9.975,"v":14.8},{"h":10.168,"v":15.4},{"h":10.361,"v":13.6},{"h":10.554,"v":16.0},{"h":10.747,"v":14.8},{"h":10.94,"v":15.7},{"h":11.229,"v":14.2},{"h":11.422,"v":12.5},{"h":11.711,"v":14.5},{"h":11.904,"v":14.2},{"h":12.097,"v":13.1},{"h":12.29,"v":15.4},{"h":12.483,"v":12.2},{"h":12.676,"v":13.6},{"h":12.907,"v":11.9},{"h":13.158,"v":12.5},{"h":13.39,"v":14.2},{"h":13.583,"v":12.8},{"h":13.776,"v":10.4},{"h":13.93,"v":13.1},{"h":14.084,"v":16.6},{"h":14.316,"v":15.1},{"h":14.509,"v":15.7},{"h":14.702,"v":13.9},{"h":14.895,"v":14.5},{"h":15.088,"v":13.1},{"h":15.281,"v":14.5},{"h":15.474,"v":13.9},{"h":15.667,"v":13.1},{"h":15.86,"v":16.0},{"h":16.053,"v":14.5},{"h":16.245,"v":12.5},{"h":16.438,"v":14.2},{"h":16.631,"v":16.6},{"h":16.824,"v":11.9},{"h":17.017,"v":13.6},{"h":17.268,"v":14.5},{"h":17.5,"v":13.9},{"h":17.75,"v":16.0},{"h":17.885,"v":14.8},{"h":18.078,"v":11.0},{"h":18.271,"v":12.8},{"h":18.561,"v":13.1},{"h":18.85,"v":12.8},{"h":19.043,"v":8.6},{"h":19.236,"v":9.5},{"h":19.525,"v":9.8},{"h":19.815,"v":9.5},{"h":20.046,"v":11.0},{"h":20.297,"v":9.8},{"h":20.49,"v":11.0},{"h":20.741,"v":9.5},{"h":20.972,"v":11.3},{"h":21.262,"v":8.6},{"h":21.551,"v":12.2},{"h":21.783,"v":9.8},{"h":22.034,"v":9.2},{"h":22.323,"v":8.6},{"h":22.612,"v":11.3},{"h":22.902,"v":10.4},{"h":23.095,"v":9.5},{"h":23.442,"v":7.8},{"h":23.77,"v":10.4},{"h":24.021,"v":8.1}],
"wgust":[{"h":0,"v":18.9},{"h":0.096,"v":11.9},{"h":0.192,"v":14.8},{"h":0.288,"v":8.9},{"h":0.384,"v":15.7},{"h":0.48,"v":10.7},{"h":0.576,"v":14.8},{"h":0.672,"v":8.4},{"h":0.768,"v":16.0},{"h":0.864,"v":7.8},{"h":0.96,"v":11.3},{"h":1.056,"v":6.6},{"h":1.152,"v":10.4},{"h":1.248,"v":7.5},{"h":1.344,"v":10.7},{"h":1.44,"v":8.4},{"h":1.536,"v":11.3},{"h":1.632,"v":8.6},{"h":1.728,"v":11.9},{"h":1.824,"v":8.9},{"h":1.92,"v":14.2},{"h":2.016,"v":8.9},{"h":2.112,"v":12.5},{"h":2.208,"v":9.8},{"h":2.304,"v":16.0},{"h":2.4,"v":12.5},{"h":2.496,"v":19.5},{"h":2.592,"v":13.1},{"h":2.688,"v":16.0},{"h":2.784,"v":12.2},{"h":2.88,"v":18.9},{"h":2.976,"v":13.6},{"h":3.072,"v":16.9},{"h":3.168,"v":12.5},{"h":3.264,"v":21.6},{"h":3.36,"v":13.6},{"h":3.456,"v":17.8},{"h":3.552,"v":12.8},{"h":3.648,"v":18.9},{"h":3.744,"v":11.3},{"h":3.84,"v":16.6},{"h":3.936,"v":10.4},{"h":4.032,"v":14.8},{"h":4.128,"v":11.0},{"h":4.224,"v":16.6},{"h":4.32,"v":11.9},{"h":4.416,"v":17.2},{"h":4.512,"v":10.4},{"h":4.608,"v":14.8},{"h":4.704,"v":10.7},{"h":4.8,"v":15.4},{"h":4.896,"v":10.1},{"h":4.992,"v":13.6},{"h":5.088,"v":8.9},{"h":5.184,"v":14.2},{"h":5.28,"v":8.9},{"h":5.376,"v":13.6},{"h":5.472,"v":8.9},{"h":5.568,"v":16.0},{"h":5.664,"v":10.1},{"h":5.76,"v":17.8},{"h":5.856,"v":11.3},{"h":5.952,"v":16.0},{"h":6.048,"v":11.9},{"h":6.144,"v":17.2},{"h":6.24,"v":12.5},{"h":6.336,"v":19.5},{"h":6.432,"v":13.6},{"h":6.528,"v":17.8},{"h":6.624,"v":13.1},{"h":6.72,"v":18.4},{"h":6.816,"v":14.8},{"h":6.912,"v":20.1},{"h":7.008,"v":14.8},{"h":7.104,"v":20.7},{"h":7.2,"v":16.0},{"h":7.296,"v":23.1},{"h":7.392,"v":17.2},{"h":7.488,"v":27.2},{"h":7.584,"v":18.4},{"h":7.68,"v":23.1},{"h":7.776,"v":16.0},{"h":7.872,"v":21.9},{"h":7.968,"v":17.2},{"h":8.064,"v":25.4},{"h":8.16,"v":18.4},{"h":8.256,"v":23.6},{"h":8.352,"v":16.0},{"h":8.448,"v":21.3},{"h":8.544,"v":16.6},{"h":8.64,"v":24.8},{"h":8.736,"v":16.6},{"h":8.832,"v":20.7},{"h":8.928,"v":14.8},{"h":9.024,"v":25.4},{"h":9.12,"v":17.8},{"h":9.216,"v":23.6},{"h":9.312,"v":16.6},{"h":9.408,"v":24.2},{"h":9.504,"v":17.2},{"h":9.6,"v":21.9},{"h":9.696,"v":14.8},{"h":9.792,"v":23.1},{"h":9.888,"v":17.2},{"h":9.984,"v":26.6},{"h":10.08,"v":19.5},{"h":10.176,"v":28.9},{"h":10.272,"v":20.7},{"h":10.368,"v":33.1},{"h":10.464,"v":21.9},{"h":10.56,"v":30.0},{"h":10.656,"v":35.1},{"h":10.752,"v":23.1},{"h":10.848,"v":29.4},{"h":10.944,"v":19.5},{"h":11.04,"v":26.6},{"h":11.136,"v":20.7},{"h":11.232,"v":25.4},{"h":11.328,"v":17.8},{"h":11.424,"v":24.2},{"h":11.52,"v":18.9},{"h":11.616,"v":26.6},{"h":11.712,"v":18.4},{"h":11.808,"v":24.8},{"h":11.904,"v":17.2},{"h":12.0,"v":23.1},{"h":12.096,"v":17.8},{"h":12.192,"v":26.6},{"h":12.288,"v":19.5},{"h":12.384,"v":23.1},{"h":12.48,"v":18.4},{"h":12.576,"v":30.6},{"h":12.672,"v":21.3},{"h":12.768,"v":26.6},{"h":12.864,"v":18.9},{"h":12.96,"v":23.1},{"h":13.056,"v":17.2},{"h":13.152,"v":23.6},{"h":13.248,"v":18.4},{"h":13.344,"v":27.2},{"h":13.44,"v":19.5},{"h":13.536,"v":24.2},{"h":13.632,"v":17.2},{"h":13.728,"v":22.5},{"h":13.824,"v":16.6},{"h":13.92,"v":26.6},{"h":14.016,"v":30.0},{"h":14.112,"v":23.1},{"h":14.208,"v":35.7},{"h":14.304,"v":23.1},{"h":14.4,"v":30.0},{"h":14.496,"v":21.3},{"h":14.592,"v":27.8},{"h":14.688,"v":20.1},{"h":14.784,"v":26.6},{"h":14.88,"v":20.7},{"h":14.976,"v":25.4},{"h":15.072,"v":18.9},{"h":15.168,"v":27.8},{"h":15.264,"v":20.7},{"h":15.36,"v":31.0},{"h":15.456,"v":21.9},{"h":15.552,"v":26.6},{"h":15.648,"v":19.5},{"h":15.744,"v":24.8},{"h":15.84,"v":20.7},{"h":15.936,"v":26.6},{"h":16.032,"v":18.4},{"h":16.128,"v":25.4},{"h":16.224,"v":18.9},{"h":16.32,"v":24.2},{"h":16.416,"v":18.4},{"h":16.512,"v":28.9},{"h":16.608,"v":20.7},{"h":16.704,"v":31.3},{"h":16.8,"v":19.5},{"h":16.896,"v":26.6},{"h":16.992,"v":18.9},{"h":17.088,"v":27.2},{"h":17.184,"v":18.9},{"h":17.28,"v":25.4},{"h":17.376,"v":17.2},{"h":17.472,"v":28.9},{"h":17.568,"v":19.5},{"h":17.664,"v":26.6},{"h":17.76,"v":20.7},{"h":17.856,"v":25.4},{"h":17.952,"v":17.2},{"h":18.048,"v":23.1},{"h":18.144,"v":16.0},{"h":18.24,"v":20.7},{"h":18.336,"v":16.6},{"h":18.432,"v":21.9},{"h":18.528,"v":17.2},{"h":18.624,"v":22.5},{"h":18.72,"v":17.8},{"h":18.816,"v":20.7},{"h":18.912,"v":14.8},{"h":19.008,"v":18.9},{"h":19.104,"v":13.1},{"h":19.2,"v":18.9},{"h":19.296,"v":13.6},{"h":19.392,"v":19.5},{"h":19.488,"v":12.5},{"h":19.584,"v":20.7},{"h":19.68,"v":13.1},{"h":19.776,"v":17.2},{"h":19.872,"v":12.5},{"h":19.968,"v":17.8},{"h":20.064,"v":13.6},{"h":20.16,"v":16.6},{"h":20.256,"v":11.9},{"h":20.352,"v":18.4},{"h":20.448,"v":13.1},{"h":20.544,"v":16.0},{"h":20.64,"v":11.3},{"h":20.736,"v":17.8},{"h":20.832,"v":12.5},{"h":20.928,"v":17.2},{"h":21.024,"v":13.6},{"h":21.12,"v":16.0},{"h":21.216,"v":11.3},{"h":21.312,"v":18.4},{"h":21.408,"v":13.1},{"h":21.504,"v":22.5},{"h":21.6,"v":13.6},{"h":21.696,"v":20.7},{"h":21.792,"v":11.9},{"h":21.888,"v":17.2},{"h":21.984,"v":11.3},{"h":22.08,"v":18.9},{"h":22.176,"v":11.9},{"h":22.272,"v":18.4},{"h":22.368,"v":9.5},{"h":22.464,"v":20.7},{"h":22.56,"v":13.1},{"h":22.656,"v":20.1},{"h":22.752,"v":11.9},{"h":22.848,"v":17.2},{"h":22.944,"v":11.3},{"h":23.04,"v":16.0},{"h":23.136,"v":9.5},{"h":23.232,"v":15.4},{"h":23.328,"v":8.9},{"h":23.424,"v":14.8},{"h":23.52,"v":11.3},{"h":23.616,"v":19.8},{"h":23.712,"v":11.9},{"h":23.808,"v":14.8},{"h":23.904,"v":15.7},{"h":24.0,"v":13.1}]
},
"vconcat":[
{"width":871,"height":428,"resolve":{"axis":{"x":"independent","y":"independent"}},"layer":[
 {"data":{"name":"temp"},"mark":{"type":"line","stroke":"#000","strokeWidth":1},"encoding":{"x":{"field":"t","type":"quantitative","scale":{"domain":[-78,2519],"zero":false,"nice":false},"axis":{"values":[0,100,200,300,400,500,600,700,800,900,1000,1100,1200,1300,1400,1500,1600,1700,1800,1900,2000,2100,2200,2300,2400],"format":"d","labelOverlap":false,"title":"Time (GMT)","grid":true,"gridWidth":1,"labelPadding":12,"titlePadding":4}},"y":{"field":"wet","type":"quantitative","scale":{"domain":[4,15],"zero":false,"nice":false},"axis":{"values":[4,5,6,7,8,9,10,11,12,13,14,15],"format":"d","labelOverlap":false,"title":"Temperature (Deg C)","grid":true,"gridWidth":2.5,"labelPadding":9,"titlePadding":12}}}},
 {"data":{"values":[{}]},"mark":{"type":"rect","fill":null,"stroke":"#000","strokeWidth":1.2},"encoding":{"x":{"datum":-257,"axis":null},"x2":{"datum":2540},"y":{"datum":16.21,"axis":null},"y2":{"datum":2.64}}},
 {"data":{"values":[{}]},"mark":{"type":"rect","opacity":0},"encoding":{"x":{"datum":-266,"axis":null},"x2":{"datum":-200},"y":{"datum":2.535,"axis":null},"y2":{"datum":3}}},
 {"data":{"name":"temp"},"mark":{"type":"line","stroke":"#000","strokeWidth":1},"encoding":{"x":{"field":"t","type":"quantitative","axis":null},"y":{"field":"dew","type":"quantitative","axis":null}}},
 {"data":{"name":"temp"},"mark":{"type":"line","stroke":"#000","strokeWidth":2},"encoding":{"x":{"field":"t","type":"quantitative","axis":null},"y":{"field":"air","type":"quantitative","axis":null}}},
 {"data":{"values":[{}]},"mark":{"type":"rect","fill":null,"stroke":"#000","strokeWidth":1},"encoding":{"x":{"datum":-78,"axis":null},"x2":{"datum":2519},"y":{"datum":4,"axis":null},"y2":{"datum":15}}},
 {"data":{"values":[{}]},"mark":{"type":"rect","fill":"#888"},"encoding":{"x":{"datum":47,"axis":null},"x2":{"datum":1389},"y":{"datum":16.1,"axis":null},"y2":{"datum":14.95}}},
 {"data":{"values":[{}]},"mark":{"type":"rect","fill":"#fff","stroke":"#000","strokeWidth":1},"encoding":{"x":{"datum":38,"axis":null},"x2":{"datum":1380},"y":{"datum":16.18,"axis":null},"y2":{"datum":15.03}}},
 {"data":{"values":[{}]},"mark":{"type":"text","text":"Wokingham AWS 26 Apr 2012","fontSize":26,"align":"center","baseline":"middle"},"encoding":{"x":{"datum":709,"axis":null},"y":{"datum":15.6,"axis":null}}},
 {"data":{"values":[{}]},"mark":{"type":"rect","fill":"#888"},"encoding":{"x":{"datum":2230,"axis":null},"x2":{"datum":2543},"y":{"datum":16.13,"axis":null},"y2":{"datum":13.84}}},
 {"data":{"values":[{}]},"mark":{"type":"rect","fill":"#fff","stroke":"#000","strokeWidth":1},"encoding":{"x":{"datum":2221,"axis":null},"x2":{"datum":2534},"y":{"datum":16.21,"axis":null},"y2":{"datum":13.92}}},
 {"data":{"values":[{}]},"mark":{"type":"rule","strokeWidth":3},"encoding":{"x":{"datum":2230,"axis":null},"x2":{"datum":2274},"y":{"datum":15.72,"axis":null}}},
 {"data":{"values":[{}]},"mark":{"type":"rule","strokeWidth":1},"encoding":{"x":{"datum":2230,"axis":null},"x2":{"datum":2274},"y":{"datum":14.98,"axis":null}}},
 {"data":{"values":[{}]},"mark":{"type":"rule","strokeWidth":1},"encoding":{"x":{"datum":2230,"axis":null},"x2":{"datum":2274},"y":{"datum":14.26,"axis":null}}},
 {"data":{"values":[{}]},"mark":{"type":"text","text":"Air temp","fontSize":16,"align":"left","baseline":"middle"},"encoding":{"x":{"datum":2301,"axis":null},"y":{"datum":15.77,"axis":null}}},
 {"data":{"values":[{}]},"mark":{"type":"text","text":"Wet bulb","fontSize":16,"align":"left","baseline":"middle"},"encoding":{"x":{"datum":2301,"axis":null},"y":{"datum":15.03,"axis":null}}},
 {"data":{"values":[{}]},"mark":{"type":"text","text":"Dew point","fontSize":16,"align":"left","baseline":"middle"},"encoding":{"x":{"datum":2301,"axis":null},"y":{"datum":14.31,"axis":null}}}
]},
{"width":848,"height":452,"resolve":{"axis":{"x":"independent","y":"independent"}},"layer":[
 {"data":{"name":"rh"},"mark":{"type":"line","stroke":"#000","strokeWidth":1.6},"encoding":{"x":{"field":"t","type":"quantitative","scale":{"domain":[-74,2535],"zero":false,"nice":false},"axis":{"values":[0,100,200,300,400,500,600,700,800,900,1000,1100,1200,1300,1400,1500,1600,1700,1800,1900,2000,2100,2200,2300,2400],"format":"d","labelOverlap":false,"title":"Time (GMT)","grid":true,"gridDash":[1,2],"labelPadding":14,"titlePadding":2}},"y":{"field":"v","type":"quantitative","scale":{"domain":[10,100],"zero":false,"nice":false},"axis":{"values":[10,15,20,25,30,35,40,45,50,55,60,65,70,75,80,85,90,95,100],"format":"d","labelOverlap":false,"labelExpr":"datum.value % 10 == 0 ? datum.label : ''","title":"Relative humidity (%)","grid":true,"gridDash":[1,2],"labelPadding":12,"titlePadding":12}}}},
 {"data":{"values":[{}]},"mark":{"type":"rect","fill":null,"stroke":"#000","strokeWidth":1.2},"encoding":{"x":{"datum":-292,"axis":null},"x2":{"datum":2578},"y":{"datum":103.98,"axis":null},"y2":{"datum":1.44}}},
 {"data":{"values":[{}]},"mark":{"type":"rect","opacity":0},"encoding":{"x":{"datum":-317,"axis":null},"x2":{"datum":-300},"y":{"datum":-0.155,"axis":null},"y2":{"datum":1}}},
 {"data":{"values":[{}]},"mark":{"type":"rect","fill":null,"stroke":"#000","strokeWidth":1},"encoding":{"x":{"datum":-74,"axis":null},"x2":{"datum":2535},"y":{"datum":10,"axis":null},"y2":{"datum":100}}},
 {"data":{"values":[{}]},"mark":{"type":"rect","fill":"#888"},"encoding":{"x":{"datum":369,"axis":null},"x2":{"datum":553},"y":{"datum":27.3,"axis":null},"y2":{"datum":19.9}}},
 {"data":{"values":[{}]},"mark":{"type":"rect","fill":"#fff","stroke":"#000","strokeWidth":1},"encoding":{"x":{"datum":360,"axis":null},"x2":{"datum":544},"y":{"datum":27.9,"axis":null},"y2":{"datum":20.5}}},
 {"data":{"values":[{}]},"mark":{"type":"rule","strokeWidth":3},"encoding":{"x":{"datum":381,"axis":null},"x2":{"datum":428},"y":{"datum":23.5,"axis":null}}},
 {"data":{"values":[{}]},"mark":{"type":"text","text":"RH","fontSize":16,"align":"left","baseline":"middle"},"encoding":{"x":{"datum":452,"axis":null},"y":{"datum":24.2,"axis":null}}},
 {"data":{"values":[{}]},"mark":{"type":"rect","fill":"#888"},"encoding":{"x":{"datum":46,"axis":null},"x2":{"datum":1049},"y":{"datum":19.75,"axis":null},"y2":{"datum":9.8}}},
 {"data":{"values":[{}]},"mark":{"type":"rect","fill":"#fff","stroke":"#000","strokeWidth":1},"encoding":{"x":{"datum":37,"axis":null},"x2":{"datum":1040},"y":{"datum":20.35,"axis":null},"y2":{"datum":10.4}}},
 {"data":{"values":[{}]},"mark":{"type":"text","text":"Wokingham AWS 26 Apr 2012","fontSize":19,"align":"center","baseline":"middle"},"encoding":{"x":{"datum":538,"axis":null},"y":{"datum":15.4,"axis":null}}}
]},
{"width":871,"height":471,"resolve":{"axis":{"x":"independent","y":"independent"}},"layer":[
 {"data":{"name":"mix"},"mark":{"type":"line","stroke":"#000","strokeWidth":1.8},"encoding":{"x":{"field":"t","type":"quantitative","scale":{"domain":[-72,2532],"zero":false,"nice":false},"axis":{"values":[0,100,200,300,400,500,600,700,800,900,1000,1100,1200,1300,1400,1500,1600,1700,1800,1900,2000,2100,2200,2300,2400],"format":"d","labelOverlap":false,"title":"Time (GMT)","grid":true,"gridDash":[1,2],"labelPadding":12,"titlePadding":2}},"y":{"field":"v","type":"quantitative","scale":{"domain":[5,7],"zero":false,"nice":false},"axis":{"values":[5,5.5,6,6.5,7],"format":"~g","labelOverlap":false,"title":"Humidity mixing ratio (grammes)","grid":true,"gridDash":[1,2],"labelPadding":10,"titlePadding":14}}}},
 {"data":{"values":[{}]},"mark":{"type":"rect","fill":null,"stroke":"#000","strokeWidth":1.2},"encoding":{"x":{"datum":-260,"axis":null},"x2":{"datum":2538},"y":{"datum":7.034,"axis":null},"y2":{"datum":4.79}}},
 {"data":{"values":[{}]},"mark":{"type":"rect","opacity":0},"encoding":{"x":{"datum":-260,"axis":null},"x2":{"datum":-250},"y":{"datum":4.771,"axis":null},"y2":{"datum":4.8}}},
 {"data":{"values":[{}]},"mark":{"type":"rect","fill":null,"stroke":"#000","strokeWidth":1},"encoding":{"x":{"datum":-72,"axis":null},"x2":{"datum":2532},"y":{"datum":5,"axis":null},"y2":{"datum":7}}},
 {"data":{"values":[{}]},"mark":{"type":"rect","fill":"#888"},"encoding":{"x":{"datum":-9,"axis":null},"x2":{"datum":1040},"y":{"datum":7.017,"axis":null},"y2":{"datum":6.885}}},
 {"data":{"values":[{}]},"mark":{"type":"rect","fill":"#fff","stroke":"#000","strokeWidth":1},"encoding":{"x":{"datum":-18,"axis":null},"x2":{"datum":1031},"y":{"datum":7.03,"axis":null},"y2":{"datum":6.898}}},
 {"data":{"values":[{}]},"mark":{"type":"text","text":"Wokingham AWS 26 Apr 2012","fontSize":19,"align":"center","baseline":"middle"},"encoding":{"x":{"datum":505,"axis":null},"y":{"datum":6.966,"axis":null}}},
 {"data":{"values":[{}]},"mark":{"type":"rect","fill":"#888"},"encoding":{"x":{"datum":1210,"axis":null},"x2":{"datum":2376},"y":{"datum":5.178,"axis":null},"y2":{"datum":5.004}}},
 {"data":{"values":[{}]},"mark":{"type":"rect","fill":"#fff","stroke":"#000","strokeWidth":1},"encoding":{"x":{"datum":1201,"axis":null},"x2":{"datum":2367},"y":{"datum":5.191,"axis":null},"y2":{"datum":5.017}}},
 {"data":{"values":[{}]},"mark":{"type":"rule","strokeWidth":3},"encoding":{"x":{"datum":1212,"axis":null},"x2":{"datum":1249},"y":{"datum":5.09,"axis":null}}},
 {"data":{"values":[{}]},"mark":{"type":"text","text":"Humidity mixing ratio, g water vapour per kg of air","fontSize":14,"align":"left","baseline":"middle"},"encoding":{"x":{"datum":1270,"axis":null},"y":{"datum":5.106,"axis":null}}}
]},
{"width":827,"height":415,"resolve":{"axis":{"x":"independent","y":"independent"}},"layer":[
 {"data":{"name":"pres"},"mark":{"type":"line","stroke":"#000","strokeWidth":1.4},"encoding":{"x":{"field":"t","type":"quantitative","scale":{"domain":[-79,2546],"zero":false,"nice":false},"axis":{"values":[0,100,200,300,400,500,600,700,800,900,1000,1100,1200,1300,1400,1500,1600,1700,1800,1900,2000,2100,2200,2300,2400],"format":"d","labelOverlap":false,"title":"Time (GMT)","grid":true,"gridDash":[1,2],"labelPadding":{"condition":{"test":"datum.value % 200 == 100","value":29},"value":15},"titlePadding":2}},"y":{"field":"v","type":"quantitative","scale":{"domain":[982,1006],"zero":false,"nice":false},"axis":{"values":[982,983,984,985,986,987,988,989,990,991,992,993,994,995,996,997,998,999,1000,1001,1002,1003,1004,1005,1006],"format":"d","labelOverlap":false,"labelExpr":"datum.value % 2 == 0 ? datum.label : ''","title":"Pressure (mbar)","grid":true,"gridDash":[1,2],"labelPadding":10,"titlePadding":12}}}},
 {"data":{"values":[{}]},"mark":{"type":"rect","fill":null,"stroke":"#000","strokeWidth":1.2},"encoding":{"x":{"datum":-377,"axis":null},"x2":{"datum":2571},"y":{"datum":1008.78,"axis":null},"y2":{"datum":977.6}}},
 {"data":{"values":[{}]},"mark":{"type":"rect","opacity":0},"encoding":{"x":{"datum":-384,"axis":null},"x2":{"datum":-370},"y":{"datum":977.14,"axis":null},"y2":{"datum":978}}},
 {"data":{"values":[{}]},"mark":{"type":"rect","fill":null,"stroke":"#000","strokeWidth":1},"encoding":{"x":{"datum":-79,"axis":null},"x2":{"datum":2546},"y":{"datum":982,"axis":null},"y2":{"datum":1006}}},
 {"data":{"values":[{}]},"mark":{"type":"rect","fill":"#888"},"encoding":{"x":{"datum":530,"axis":null},"x2":{"datum":1032},"y":{"datum":1008.32,"axis":null},"y2":{"datum":1005.83}}},
 {"data":{"values":[{}]},"mark":{"type":"rect","fill":"#fff","stroke":"#000","strokeWidth":1},"encoding":{"x":{"datum":521,"axis":null},"x2":{"datum":1023},"y":{"datum":1008.49,"axis":null},"y2":{"datum":1006}}},
 {"data":{"values":[{}]},"mark":{"type":"rule","strokeWidth":3},"encoding":{"x":{"datum":565,"axis":null},"x2":{"datum":613},"y":{"datum":1007.1,"axis":null}}},
 {"data":{"values":[{}]},"mark":{"type":"text","text":"MSL Pressure","fontSize":16,"align":"left","baseline":"middle"},"encoding":{"x":{"datum":642,"axis":null},"y":{"datum":1007.27,"axis":null}}},
 {"data":{"values":[{}]},"mark":{"type":"rect","fill":"#888"},"encoding":{"x":{"datum":1127,"axis":null},"x2":{"datum":2181},"y":{"datum":1008.55,"axis":null},"y2":{"datum":1005.71}}},
 {"data":{"values":[{}]},"mark":{"type":"rect","fill":"#fff","stroke":"#000","strokeWidth":1},"encoding":{"x":{"datum":1118,"axis":null},"x2":{"datum":2172},"y":{"datum":1008.72,"axis":null},"y2":{"datum":1005.88}}},
 {"data":{"values":[{}]},"mark":{"type":"text","text":"Wokingham AWS 26 Apr 2012","fontSize":19,"align":"center","baseline":"middle"},"encoding":{"x":{"datum":1645,"axis":null},"y":{"datum":1007.33,"axis":null}}}
]},
{"width":800,"height":430,"resolve":{"scale":{"y":"independent"},"axis":{"x":"independent","y":"independent"}},"layer":[
 {"data":{"name":"grass"},"mark":{"type":"line","stroke":"#888","strokeWidth":1,"clip":true},"encoding":{"x":{"field":"t","type":"quantitative","scale":{"domain":[-85,2527],"zero":false,"nice":false},"axis":null},"y":{"field":"d","type":"quantitative","scale":{"domain":[-18,2],"zero":false,"nice":false},"axis":{"orient":"right","values":[-18,-16,-14,-12,-10,-8,-6,-4,-2,0,2],"format":"d","labelOverlap":false,"title":"Grass Temp minus Air Temp (Deg C)","grid":false,"labelPadding":11,"titlePadding":12}}}},
 {"resolve":{"axis":{"x":"independent","y":"independent"}},"layer":[
  {"data":{"name":"grass"},"mark":{"type":"line","stroke":"#000","strokeWidth":1.6,"clip":true},"encoding":{"x":{"field":"t","type":"quantitative","scale":{"domain":[-85,2527],"zero":false,"nice":false},"axis":{"values":[0,100,200,300,400,500,600,700,800,900,1000,1100,1200,1300,1400,1500,1600,1700,1800,1900,2000,2100,2200,2300,2400],"format":"d","labelOverlap":false,"title":"Time GMT","grid":true,"gridDash":[1,2],"labelPadding":{"condition":{"test":"datum.value % 200 == 100","value":27},"value":12},"titlePadding":3}},"y":{"field":"g","type":"quantitative","scale":{"domain":[-6,14],"zero":false,"nice":false},"axis":{"orient":"left","values":[-6,-5,-4,-3,-2,-1,0,1,2,3,4,5,6,7,8,9,10,11,12,13,14],"format":"d","labelOverlap":false,"labelExpr":"datum.value % 2 == 0 ? datum.label : ''","title":"Grass Temp (Deg C)","grid":true,"gridDash":{"condition":{"test":"datum.value % 2 == 0","value":[]},"value":[1,2]},"gridWidth":{"condition":{"test":"datum.value % 2 == 0","value":2},"value":1},"labelPadding":11,"titlePadding":14}}}},
  {"data":{"values":[{}]},"mark":{"type":"rect","fill":null,"stroke":"#000","strokeWidth":1.2},"encoding":{"x":{"datum":-258,"axis":null},"x2":{"datum":2775},"y":{"datum":16.33,"axis":null},"y2":{"datum":-8.74}}},
  {"data":{"values":[{}]},"mark":{"type":"rect","opacity":0},"encoding":{"x":{"datum":-265,"axis":null},"x2":{"datum":-250},"y":{"datum":-9.07,"axis":null},"y2":{"datum":-8.5}}},
  {"data":{"values":[{}]},"mark":{"type":"rect","fill":null,"stroke":"#000","strokeWidth":1},"encoding":{"x":{"datum":-85,"axis":null},"x2":{"datum":2527},"y":{"datum":-6,"axis":null},"y2":{"datum":14}}},
  {"data":{"values":[{}]},"mark":{"type":"rect","fill":"#888"},"encoding":{"x":{"datum":666,"axis":null},"x2":{"datum":1780},"y":{"datum":16.19,"axis":null},"y2":{"datum":14.05}}},
  {"data":{"values":[{}]},"mark":{"type":"rect","fill":"#fff","stroke":"#000","strokeWidth":1},"encoding":{"x":{"datum":656,"axis":null},"x2":{"datum":1770},"y":{"datum":16.33,"axis":null},"y2":{"datum":14.19}}},
  {"data":{"values":[{}]},"mark":{"type":"text","text":"Wokingham AWS 26 Apr 2012","fontSize":19,"align":"center","baseline":"middle"},"encoding":{"x":{"datum":1213,"axis":null},"y":{"datum":15.26,"axis":null}}},
  {"data":{"values":[{}]},"mark":{"type":"rect","fill":"#888"},"encoding":{"x":{"datum":990,"axis":null},"x2":{"datum":1574},"y":{"datum":-1.95,"axis":null},"y2":{"datum":-5.72}}},
  {"data":{"values":[{}]},"mark":{"type":"rect","fill":"#fff","stroke":"#000","strokeWidth":1},"encoding":{"x":{"datum":980,"axis":null},"x2":{"datum":1564},"y":{"datum":-1.81,"axis":null},"y2":{"datum":-5.58}}},
  {"data":{"values":[{}]},"mark":{"type":"rule","strokeWidth":3},"encoding":{"x":{"datum":1038,"axis":null},"x2":{"datum":1081},"y":{"datum":-3.1,"axis":null}}},
  {"data":{"values":[{}]},"mark":{"type":"rule","strokeWidth":1,"color":"#888"},"encoding":{"x":{"datum":1038,"axis":null},"x2":{"datum":1081},"y":{"datum":-4.45,"axis":null}}},
  {"data":{"values":[{}]},"mark":{"type":"text","text":"Grass level temp","fontSize":16,"align":"left","baseline":"middle"},"encoding":{"x":{"datum":1117,"axis":null},"y":{"datum":-3.07,"axis":null}}},
  {"data":{"values":[{}]},"mark":{"type":"text","text":"Grass-air diff","fontSize":16,"align":"left","baseline":"middle"},"encoding":{"x":{"datum":1117,"axis":null},"y":{"datum":-4.42,"axis":null}}}
 ]}
]},
{"width":840,"height":408,"resolve":{"axis":{"x":"independent","y":"independent"}},"layer":[
 {"data":{"name":"rain"},"mark":{"type":"line","stroke":"#000","strokeWidth":2.2},"encoding":{"x":{"field":"t","type":"quantitative","scale":{"domain":[-74,2530],"zero":false,"nice":false},"axis":{"values":[0,100,200,300,400,500,600,700,800,900,1000,1100,1200,1300,1400,1500,1600,1700,1800,1900,2000,2100,2200,2300,2400],"format":"d","labelOverlap":false,"title":"Time (GMT)","grid":true,"gridDash":[1,2],"labelPadding":{"condition":{"test":"datum.value % 200 == 100","value":28},"value":12},"titlePadding":3}},"y":{"field":"v","type":"quantitative","scale":{"domain":[0,20],"zero":false,"nice":false},"axis":{"values":[0,1,2,3,4,5,6,7,8,9,10,11,12,13,14,15,16,17,18,19,20],"format":"d","labelOverlap":false,"labelExpr":"datum.value % 2 == 0 ? datum.label : ''","title":"Rainfall accumulation (mm)","grid":true,"gridDash":{"condition":{"test":"datum.value % 2 == 0","value":[]},"value":[1,2]},"gridWidth":{"condition":{"test":"datum.value % 2 == 0","value":2.5},"value":1},"labelPadding":11,"titlePadding":12}}}},
 {"data":{"values":[{}]},"mark":{"type":"rect","fill":null,"stroke":"#000","strokeWidth":1.2},"encoding":{"x":{"datum":-235,"axis":null},"x2":{"datum":2635},"y":{"datum":23.19,"axis":null},"y2":{"datum":-2.89}}},
 {"data":{"values":[{}]},"mark":{"type":"rect","opacity":0},"encoding":{"x":{"datum":-235,"axis":null},"x2":{"datum":-225},"y":{"datum":-3.775,"axis":null},"y2":{"datum":-3}}},
 {"data":{"values":[{}]},"mark":{"type":"rect","fill":null,"stroke":"#000","strokeWidth":1},"encoding":{"x":{"datum":-74,"axis":null},"x2":{"datum":2530},"y":{"datum":0,"axis":null},"y2":{"datum":20}}},
 {"data":{"values":[{}]},"mark":{"type":"rect","fill":"#fff"},"encoding":{"x":{"datum":-30,"axis":null},"x2":{"datum":946},"y":{"datum":19.06,"axis":null},"y2":{"datum":20.4}}},
 {"data":{"values":[{}]},"mark":{"type":"text","text":"Wokingham AWS 26 Apr 2012","fontSize":19,"align":"center","baseline":"middle"},"encoding":{"x":{"datum":456,"axis":null},"y":{"datum":21.42,"axis":null}}},
 {"data":{"values":[{}]},"mark":{"type":"text","text":"Rainfall (TBR)","fontSize":19,"align":"center","baseline":"middle"},"encoding":{"x":{"datum":456,"axis":null},"y":{"datum":20.1,"axis":null}}},
 {"data":{"values":[{}]},"mark":{"type":"text","text":"The official gauge normally catches a few percent more","fontSize":17,"align":"center","baseline":"middle"},"encoding":{"x":{"datum":1740,"axis":null},"y":{"datum":21.18,"axis":null}}}
]},
{"width":858,"height":456,"resolve":{"axis":{"x":"independent","y":"independent"}},"layer":[
 {"data":{"name":"sun"},"mark":{"type":"line","stroke":"#000","strokeWidth":2},"encoding":{"x":{"field":"h","type":"quantitative","scale":{"domain":[2.387,22.613],"zero":false,"nice":false},"axis":{"values":[3,4,5,6,7,8,9,10,11,12,13,14,15,16,17,18,19,20,21,22],"format":"d","labelOverlap":false,"title":"Time (GMT)","grid":true,"gridDash":[3,3],"labelFontSize":18,"labelPadding":10,"titlePadding":4}},"y":{"field":"s","type":"quantitative","scale":{"domain":[0,150],"zero":false,"nice":false},"axis":{"values":[0,50,100],"format":"d","labelOverlap":false,"labelExpr":"datum.value == 50 ? '' : datum.label","title":"Sunshine (per cent per minute)","grid":true,"gridColor":"#aaa","gridDash":[2,2],"labelPadding":13,"titlePadding":12}}}},
 {"data":{"values":[{}]},"mark":{"type":"rect","fill":null,"stroke":"#000","strokeWidth":1.2},"encoding":{"x":{"datum":0.501,"axis":null},"x2":{"datum":22.778},"y":{"datum":153.3,"axis":null},"y2":{"datum":-16.8}}},
 {"data":{"values":[{}]},"mark":{"type":"rect","opacity":0},"encoding":{"x":{"datum":0.454,"axis":null},"x2":{"datum":0.6},"y":{"datum":-22.37,"axis":null},"y2":{"datum":-16}}},
 {"data":{"values":[{}]},"mark":{"type":"rect","fill":null,"stroke":"#000","strokeWidth":1},"encoding":{"x":{"datum":2.387,"axis":null},"x2":{"datum":22.613},"y":{"datum":0,"axis":null},"y2":{"datum":150}}},
 {"data":{"values":[{}]},"mark":{"type":"rect","fill":"#fff"},"encoding":{"x":{"datum":7.597,"axis":null},"x2":{"datum":16.27},"y":{"datum":128.3,"axis":null},"y2":{"datum":151.5}}},
 {"data":{"values":[{}]},"mark":{"type":"rect","fill":"#fff"},"encoding":{"x":{"datum":8.02,"axis":null},"x2":{"datum":15.965},"y":{"datum":103,"axis":null},"y2":{"datum":128.5}}},
 {"data":{"values":[{}]},"mark":{"type":"text","text":"Wokingham sunshine","fontSize":17,"align":"center","baseline":"middle"},"encoding":{"x":{"datum":11.91,"axis":null},"y":{"datum":146.7,"axis":null}}},
 {"data":{"values":[{}]},"mark":{"type":"text","text":"26-Apr","fontSize":25,"align":"center","baseline":"middle"},"encoding":{"x":{"datum":11.91,"axis":null},"y":{"datum":136.5,"axis":null}}},
 {"data":{"values":[{}]},"mark":{"type":"text","text":"2012","fontSize":14,"fontWeight":"bold","align":"center","baseline":"middle"},"encoding":{"x":{"datum":11.91,"axis":null},"y":{"datum":122.4,"axis":null}}},
 {"data":{"values":[{}]},"mark":{"type":"text","text":"Total 3.97 Hrs","fontSize":25,"align":"center","baseline":"middle"},"encoding":{"x":{"datum":11.91,"axis":null},"y":{"datum":113.5,"axis":null}}}
]},
{"width":836,"height":464,"resolve":{"axis":{"x":"independent","y":"independent"}},"layer":[
 {"data":{"name":"dir"},"mark":{"type":"point","shape":"diamond","filled":true,"color":"#000","size":65,"opacity":1},"encoding":{"x":{"field":"h","type":"quantitative","scale":{"domain":[-0.8,24.923],"zero":false,"nice":false},"axis":{"values":[0,1,2,3,4,5,6,7,8,9,10,11,12,13,14,15,16,17,18,19,20,21,22,23,24],"format":"d","labelOverlap":false,"title":"Time (GMT)","grid":true,"gridWidth":1,"labelPadding":12,"titlePadding":3}},"y":{"field":"d","type":"quantitative","scale":{"domain":[0,360],"zero":false,"nice":false},"axis":{"values":[0,10,20,30,40,50,60,70,80,90,100,110,120,130,140,150,160,170,180,190,200,210,220,230,240,250,260,270,280,290,300,310,320,330,340,350,360],"format":"d","labelOverlap":false,"labelExpr":"datum.value % 30 == 0 ? datum.label : ''","title":"Direction, degrees true","grid":true,"gridWidth":{"condition":{"test":"datum.value % 30 == 0","value":2.5},"value":1},"labelPadding":10,"titlePadding":12}}}},
 {"data":{"values":[{}]},"mark":{"type":"rect","fill":null,"stroke":"#000","strokeWidth":1.2},"encoding":{"x":{"datum":-3.385,"axis":null},"x2":{"datum":25.415},"y":{"datum":374.7,"axis":null},"y2":{"datum":-38.8}}},
 {"data":{"values":[{}]},"mark":{"type":"rect","opacity":0},"encoding":{"x":{"datum":-3.538,"axis":null},"x2":{"datum":-3.3},"y":{"datum":0,"axis":null},"y2":{"datum":10}}},
 {"data":{"values":[{}]},"mark":{"type":"rect","fill":null,"stroke":"#000","strokeWidth":1},"encoding":{"x":{"datum":-0.8,"axis":null},"x2":{"datum":24.923},"y":{"datum":0,"axis":null},"y2":{"datum":360}}},
 {"data":{"values":[{}]},"mark":{"type":"rect","fill":"#fff"},"encoding":{"x":{"datum":7.477,"axis":null},"x2":{"datum":16.615},"y":{"datum":332,"axis":null},"y2":{"datum":362}}},
 {"data":{"values":[{}]},"mark":{"type":"text","text":"Wokingham,  26 April 2012","fontSize":16,"align":"center","baseline":"middle"},"encoding":{"x":{"datum":12.0,"axis":null},"y":{"datum":357.5,"axis":null}}},
 {"data":{"values":[{}]},"mark":{"type":"text","text":"5 minute mean wind direction","fontSize":13,"align":"center","baseline":"middle"},"encoding":{"x":{"datum":12.0,"axis":null},"y":{"datum":343.7,"axis":null}}}
]},
{"width":859,"height":395,"resolve":{"axis":{"x":"independent","y":"independent"}},"layer":[
 {"data":{"name":"wgust"},"mark":{"type":"line","stroke":"#555","strokeWidth":1},"encoding":{"x":{"field":"h","type":"quantitative","scale":{"domain":[-0.718,24.974],"zero":false,"nice":false},"axis":{"values":[0,1,2,3,4,5,6,7,8,9,10,11,12,13,14,15,16,17,18,19,20,21,22,23,24],"labelOverlap":false,"labelExpr":"datum.value > 23 ? '' : (datum.value < 10 ? '0' : '') + datum.value + ':00'","labelFontSize":12,"title":"Time (GMT)","grid":true,"gridDash":[1,2],"labelPadding":{"condition":{"test":"datum.value % 2 == 1","value":27},"value":12},"titlePadding":3}},"y":{"field":"v","type":"quantitative","scale":{"domain":[0,50],"zero":false,"nice":false},"axis":{"values":[0,5,10,15,20,25,30,35,40,45,50],"format":"d","labelOverlap":false,"labelExpr":"datum.value % 10 == 0 ? datum.label : ''","title":"Speed (knots)","grid":true,"gridDash":[1,2],"labelPadding":12,"titlePadding":13}}}},
 {"data":{"values":[{}]},"mark":{"type":"rect","fill":null,"stroke":"#000","strokeWidth":1.2},"encoding":{"x":{"datum":-2.513,"axis":null},"x2":{"datum":25.542},"y":{"datum":55.7,"axis":null},"y2":{"datum":-9.49}}},
 {"data":{"values":[{}]},"mark":{"type":"rect","opacity":0},"encoding":{"x":{"datum":-2.573,"axis":null},"x2":{"datum":-2.4},"y":{"datum":0,"axis":null},"y2":{"datum":1}}},
 {"data":{"values":[{}]},"mark":{"type":"rect","fill":null,"stroke":"#000","strokeWidth":1},"encoding":{"x":{"datum":-0.718,"axis":null},"x2":{"datum":24.974},"y":{"datum":0,"axis":null},"y2":{"datum":50}}},
 {"data":{"name":"wmean"},"mark":{"type":"line","stroke":"#000","strokeWidth":2},"encoding":{"x":{"field":"h","type":"quantitative","axis":null},"y":{"field":"v","type":"quantitative","axis":null}}},
 {"data":{"values":[{}]},"mark":{"type":"rect","fill":"#fff"},"encoding":{"x":{"datum":-0.68,"axis":null},"x2":{"datum":9.63},"y":{"datum":49.8,"axis":null},"y2":{"datum":50.4}}},
 {"data":{"values":[{}]},"mark":{"type":"text","text":"Wokingham,  26 April 2012","fontSize":17,"align":"center","baseline":"middle"},"encoding":{"x":{"datum":4.577,"axis":null},"y":{"datum":52.66,"axis":null}}},
 {"data":{"values":[{}]},"mark":{"type":"text","text":"Wind speed, 10 min mean / max gust","fontSize":13,"align":"center","baseline":"middle"},"encoding":{"x":{"datum":13.94,"axis":null},"y":{"datum":54.18,"axis":null}}},
 {"data":{"values":[{}]},"mark":{"type":"text","text":"Speeds below 4 kt shown at x10 scale","fontSize":13,"align":"center","baseline":"middle"},"encoding":{"x":{"datum":13.94,"axis":null},"y":{"datum":51.77,"axis":null}}},
 {"data":{"values":[{}]},"mark":{"type":"rect","fill":"#888"},"encoding":{"x":{"datum":18.69,"axis":null},"x2":{"datum":25.52},"y":{"datum":54.56,"axis":null},"y2":{"datum":51.27}}},
 {"data":{"values":[{}]},"mark":{"type":"rect","fill":"#fff","stroke":"#000","strokeWidth":1},"encoding":{"x":{"datum":18.6,"axis":null},"x2":{"datum":25.43},"y":{"datum":54.94,"axis":null},"y2":{"datum":51.65}}},
 {"data":{"values":[{}]},"mark":{"type":"rule","strokeWidth":3},"encoding":{"x":{"datum":19.62,"axis":null},"x2":{"datum":19.98},"y":{"datum":53.1,"axis":null}}},
 {"data":{"values":[{}]},"mark":{"type":"text","text":"Speed x 1","fontSize":11,"align":"left","baseline":"middle"},"encoding":{"x":{"datum":20.19,"axis":null},"y":{"datum":53.2,"axis":null}}},
 {"data":{"values":[{}]},"mark":{"type":"text","text":"◇","fontSize":11,"align":"center","baseline":"middle"},"encoding":{"x":{"datum":22.42,"axis":null},"y":{"datum":53.2,"axis":null}}},
 {"data":{"values":[{}]},"mark":{"type":"text","text":"Speed /10","fontSize":11,"align":"left","baseline":"middle"},"encoding":{"x":{"datum":22.8,"axis":null},"y":{"datum":53.2,"axis":null}}},
 {"data":{"values":[{}]},"mark":{"type":"text","text":"0","fontSize":13,"fontWeight":"bold","align":"center","baseline":"middle"},"encoding":{"x":{"datum":25.37,"axis":null},"y":{"datum":0,"axis":null}}}
]}
]
}
